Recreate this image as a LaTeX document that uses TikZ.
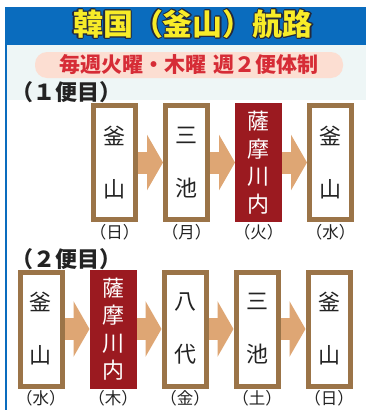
\documentclass[tikz,border=0pt]{standalone}
\usepackage{fontspec}
\setmainfont{Noto Sans CJK JP}
\usetikzlibrary{positioning,arrows.meta}
\definecolor{headblue}{RGB}{10,108,190}
\definecolor{titleyellow}{RGB}{248,236,40}
\definecolor{titleline}{RGB}{35,40,60}
\definecolor{pill}{RGB}{252,222,210}
\definecolor{subred}{RGB}{214,44,54}
\definecolor{band}{RGB}{238,246,246}
\definecolor{boxbrown}{RGB}{155,116,72}
\definecolor{portred}{RGB}{155,26,32}
\definecolor{arrowtan}{RGB}{222,166,116}
\definecolor{inkgray}{RGB}{35,35,35}

\begin{document}
\begin{tikzpicture}[x=1pt,y=-1pt,
    stop/.style={draw=boxbrown,line width=5pt,fill=white,minimum width=42pt,minimum height=114pt,inner sep=0pt,align=center,text=inkgray,font=\fontsize{22}{53}\selectfont},
    port/.style={stop,draw=portred,fill=portred,text=white,font=\fontsize{22}{27.5}\selectfont},
    day/.style={inner sep=0pt,text=inkgray,font=\fontsize{16.5}{18}\selectfont},
    flight/.style={inner sep=0pt,text=inkgray,font=\bfseries\fontsize{22}{24}\selectfont},
    flow/.style={draw=arrowtan,line width=22pt,-{Triangle[length=16pt,width=55pt]}},
    headline/.style={inner sep=0pt,font=\bfseries\fontsize{30}{32}\selectfont}]
  \useasboundingbox (0,0) rectangle (366,410);
  \fill[white] (0,0) rectangle (366,410);
  \fill[band] (7,45) rectangle (366,100);
  \fill[headblue] (5,7) rectangle (366,45);
  \fill[headblue] (5,7) rectangle (7,410);

  \foreach \a [count=\i] in {0,45,...,315}
    \node[headline,text=titleline,shift={(\a:1.4pt)}] (shade\i) at (193,24) {韓国（釜山）航路};
  \node[headline,text=titleyellow] (title) at (193,24) {韓国（釜山）航路};
  \node[fill=pill,rounded corners=12pt,minimum width=308pt,minimum height=26pt,inner sep=0pt,text=subred,font=\bfseries\fontsize{21}{24}\selectfont] (sub) at (189,65) {毎週火曜・木曜\hspace{0.3em}週２便体制};

  \node[flight] (f1) at (67,92) {（１便目）};
  \node[stop] (a1) at (114.5,162.5) {釜\\山};
  \node[stop,right=25pt of a1] (a2) {三\\池};
  \node[port,right=25pt of a2] (a3) {薩\\摩\\川\\内};
  \node[stop,right=25pt of a3] (a4) {釜\\山};
  \node[day,below=2pt of a1] (a1d) {（日）};
  \node[day,below=2pt of a2] (a2d) {（月）};
  \node[day,below=2pt of a3] (a3d) {（火）};
  \node[day,below=2pt of a4] (a4d) {（水）};
  \foreach \s/\t in {a1/a2,a2/a3,a3/a4}
    \draw[flow] (\s) -- (\t);

  \node[flight] (f2) at (67,259) {（２便目）};
  \node[stop] (b1) at (41,329) {釜\\山};
  \node[port,right=25pt of b1] (b2) {薩\\摩\\川\\内};
  \node[stop,right=25pt of b2] (b3) {八\\代};
  \node[stop,right=25pt of b3] (b4) {三\\池};
  \node[stop,right=25pt of b4] (b5) {釜\\山};
  \node[day,below=2pt of b1] (b1d) {（水）};
  \node[day,below=2pt of b2] (b2d) {（木）};
  \node[day,below=2pt of b3] (b3d) {（金）};
  \node[day,below=2pt of b4] (b4d) {（土）};
  \node[day,below=2pt of b5] (b5d) {（日）};
  \foreach \s/\t in {b1/b2,b2/b3,b3/b4,b4/b5}
    \draw[flow] (\s) -- (\t);
\end{tikzpicture}
\end{document}
